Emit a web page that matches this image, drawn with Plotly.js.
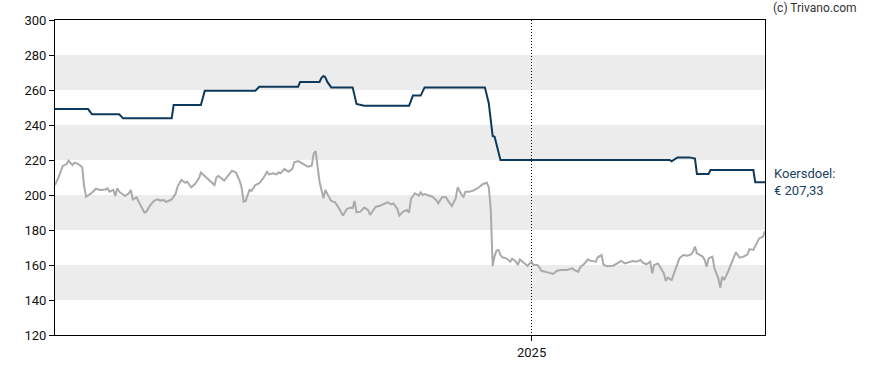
<!DOCTYPE html>
<html>
<head>
<meta charset="utf-8">
<script src="https://cdn.plot.ly/plotly-3.0.1.min.js"></script>
<style>html,body{margin:0;padding:0;background:#fff}#chart{width:888px;height:370px}</style>
</head>
<body>
<div id="chart"></div>
<script>
// Koersdoel (price target) series
const targetDates = ["2024-05-01","2024-05-18","2024-05-20","2024-06-03","2024-06-05","2024-06-30","2024-07-01","2024-07-15","2024-07-17","2024-08-12","2024-08-14","2024-09-03","2024-09-04","2024-09-14","2024-09-15","2024-09-16","2024-09-17","2024-09-18","2024-09-20","2024-10-01","2024-10-03","2024-10-07","2024-10-30","2024-11-01","2024-11-05","2024-11-07","2024-12-08","2024-12-10","2024-12-12","2024-12-13","2024-12-16","2025-03-13","2025-03-14","2025-03-17","2025-03-23","2025-03-26","2025-03-27","2025-04-02","2025-04-03","2025-04-25","2025-04-26","2025-05-01"];
const targetValues = [249.1,249.1,246.1,246.1,243.8,243.8,251.4,251.4,259.6,259.6,261.9,261.9,264.6,264.6,267,268,267.2,264.6,261.5,261.5,252,251,251,256.8,256.8,261.5,261.5,252.4,233.7,233.3,220,220,219.2,221.5,221.5,220.8,212,212,214.3,214.3,207.33,207.33];

// Share price series
const priceDates = ["2024-05-01","2024-05-03","2024-05-05","2024-05-07","2024-05-08","2024-05-10","2024-05-11","2024-05-13","2024-05-15","2024-05-16","2024-05-17","2024-05-20","2024-05-22","2024-05-24","2024-05-27","2024-05-28","2024-05-29","2024-05-31","2024-06-01","2024-06-02","2024-06-03","2024-06-06","2024-06-08","2024-06-09","2024-06-10","2024-06-12","2024-06-13","2024-06-15","2024-06-16","2024-06-17","2024-06-19","2024-06-21","2024-06-23","2024-06-24","2024-06-26","2024-06-27","2024-06-30","2024-07-02","2024-07-03","2024-07-05","2024-07-07","2024-07-08","2024-07-10","2024-07-12","2024-07-14","2024-07-15","2024-07-17","2024-07-19","2024-07-20","2024-07-22","2024-07-23","2024-07-24","2024-07-27","2024-07-29","2024-07-31","2024-08-02","2024-08-03","2024-08-04","2024-08-05","2024-08-06","2024-08-07","2024-08-09","2024-08-10","2024-08-12","2024-08-14","2024-08-16","2024-08-18","2024-08-19","2024-08-21","2024-08-23","2024-08-24","2024-08-25","2024-08-27","2024-08-29","2024-08-31","2024-09-01","2024-09-03","2024-09-06","2024-09-08","2024-09-10","2024-09-11","2024-09-12","2024-09-13","2024-09-14","2024-09-16","2024-09-17","2024-09-19","2024-09-20","2024-09-22","2024-09-24","2024-09-26","2024-09-28","2024-09-30","2024-10-01","2024-10-02","2024-10-03","2024-10-05","2024-10-07","2024-10-09","2024-10-10","2024-10-12","2024-10-13","2024-10-15","2024-10-17","2024-10-19","2024-10-21","2024-10-22","2024-10-24","2024-10-25","2024-10-27","2024-10-29","2024-10-30","2024-10-31","2024-11-02","2024-11-04","2024-11-05","2024-11-06","2024-11-07","2024-11-11","2024-11-13","2024-11-14","2024-11-16","2024-11-18","2024-11-19","2024-11-21","2024-11-23","2024-11-24","2024-11-26","2024-11-27","2024-11-28","2024-11-30","2024-12-02","2024-12-05","2024-12-07","2024-12-09","2024-12-10","2024-12-11","2024-12-12","2024-12-13","2024-12-14","2024-12-15","2024-12-16","2024-12-17","2024-12-19","2024-12-21","2024-12-22","2024-12-24","2024-12-25","2024-12-26","2024-12-28","2024-12-30","2024-12-31","2025-01-01","2025-01-02","2025-01-04","2025-01-05","2025-01-06","2025-01-08","2025-01-11","2025-01-12","2025-01-14","2025-01-16","2025-01-19","2025-01-22","2025-01-23","2025-01-25","2025-01-26","2025-01-28","2025-01-30","2025-01-31","2025-02-03","2025-02-04","2025-02-06","2025-02-07","2025-02-09","2025-02-12","2025-02-14","2025-02-16","2025-02-18","2025-02-20","2025-02-22","2025-02-24","2025-02-26","2025-02-27","2025-03-01","2025-03-03","2025-03-04","2025-03-05","2025-03-07","2025-03-08","2025-03-10","2025-03-11","2025-03-12","2025-03-14","2025-03-16","2025-03-18","2025-03-20","2025-03-22","2025-03-24","2025-03-25","2025-03-26","2025-03-27","2025-03-30","2025-03-31","2025-04-01","2025-04-02","2025-04-04","2025-04-05","2025-04-07","2025-04-08","2025-04-09","2025-04-10","2025-04-12","2025-04-14","2025-04-16","2025-04-18","2025-04-20","2025-04-22","2025-04-23","2025-04-25","2025-04-27","2025-04-28","2025-04-30","2025-05-01"];
const priceValues = [205.7,210.5,216.6,217.7,219.6,217,218.5,217.7,215.8,204.8,199,201.3,203.6,202.9,203.2,203.8,201.9,202.9,199.4,203.8,201.9,199.4,201,202.9,197.5,198.7,196.2,192.4,189.9,190.5,194.3,196.8,197.5,196.8,197.1,196,197.5,200.6,204.8,208.6,207,207.6,204.4,206.3,209.5,212.8,210.9,209,207.6,205.7,210.1,210.9,208.2,210.9,213.9,212.8,210.1,208,203.8,196.2,196.6,202.9,202.3,205.7,206.7,209.5,213.3,211.8,212.4,211.8,213,212.4,214.9,213.3,214.9,218.7,219.4,217.5,216.2,216.8,223.8,225.1,217.1,207.6,198.1,202.9,198.5,196.6,195.8,192.4,188.2,192,192.8,192.4,196.6,190.1,190.5,192.8,191.4,188.6,192,193.3,193.9,194.7,195.8,194.7,195.2,192,188.2,190.5,191.4,189.9,197.7,201,199.6,201.5,200,200.5,199,197.1,195.2,198.7,198.7,196.8,193.7,198.1,204.4,200,199,201.9,201.9,202.5,204.4,206.3,207,204.5,192,159.4,165.1,168.2,168.6,165.7,164.4,163.8,161.9,163.6,161.9,160,163.2,161.3,159.4,160.9,161.7,160,160,158.7,156.7,156.2,154.9,154.9,156.7,157.1,157.1,158.1,157.1,156.2,158.7,160.6,163.2,162.5,161.9,164.4,165.7,160,159.3,159.6,160.9,162.3,160.9,161.5,162.3,161.9,162.9,161.5,160.4,161.9,155.2,160,160.9,159,155.2,150.9,152.8,151.4,158.1,163.8,165.7,165.3,166.1,167.6,170.5,166.7,164.8,162.9,159,163.8,164.8,158.1,152.4,147,153.3,151.4,156.2,161.9,167.2,164.2,164.8,166.1,169.1,168.6,173.7,175.2,176.2,179.4];

const xStart = "2024-05-01";
const xEnd = "2025-05-01";
const yTicks = [120,140,160,180,200,220,240,260,280,300];
const yearTick = ["2025-01-01"];
const yearLabel = ["2025"];
const bandRanges = [[140,160],[180,200],[220,240],[260,280]];
const targetLabel = "Koersdoel:<br>€ 207,33";
const targetLast = targetValues[targetValues.length - 1];

const shapes = bandRanges.map(b => ({
  type: "rect", xref: "paper", yref: "y", x0: 0, x1: 1, y0: b[0], y1: b[1],
  fillcolor: "#ececec", line: {width: 0}, layer: "below"
}));

const traces = [
  {x: priceDates, y: priceValues, type: "scatter", mode: "lines",
   line: {color: "#aaaaaa", width: 2}, hoverinfo: "skip"},
  {x: targetDates, y: targetValues, type: "scatter", mode: "lines",
   line: {color: "#0d3a5c", width: 2}, hoverinfo: "skip"}
];

const layout = {
  width: 888, height: 370,
  margin: {l: 55, r: 123, t: 20, b: 35},
  paper_bgcolor: "#ffffff", plot_bgcolor: "#ffffff",
  showlegend: false,
  font: {family: "Roboto, sans-serif", size: 13, color: "#111111"},
  xaxis: {
    type: "date", range: [xStart, xEnd],
    tickvals: yearTick, ticktext: yearLabel,
    ticks: "outside", ticklen: 5, tickcolor: "#000000",
    showgrid: true, gridcolor: "#000000", gridwidth: 1, griddash: "1px,2px",
    showline: true, linecolor: "#000000", linewidth: 1, mirror: true,
    zeroline: false, tickfont: {size: 13, color: "#111111"}
  },
  yaxis: {
    range: [120, 300], tickvals: yTicks,
    ticks: "outside", ticklen: 5, tickcolor: "#000000",
    showgrid: false, zeroline: false,
    showline: true, linecolor: "#000000", linewidth: 1, mirror: true,
    tickfont: {size: 13, color: "#111111"}
  },
  shapes: shapes,
  annotations: [
    {xref: "paper", yref: "y", x: 1, y: targetLast, xanchor: "left", yanchor: "middle",
     xshift: 7, text: targetLabel, showarrow: false, align: "left",
     font: {family: "Roboto, sans-serif", size: 13, color: "#1b3f60"}},
    {xref: "paper", yref: "paper", x: 1, y: 1, xanchor: "left", yanchor: "middle",
     xshift: 6, yshift: 12, text: "(c) Trivano.com", showarrow: false,
     font: {family: "Roboto, sans-serif", size: 12, color: "#333333"}}
  ]
};

Plotly.newPlot("chart", traces, layout, {staticPlot: true, displayModeBar: false});
</script>
</body>
</html>
